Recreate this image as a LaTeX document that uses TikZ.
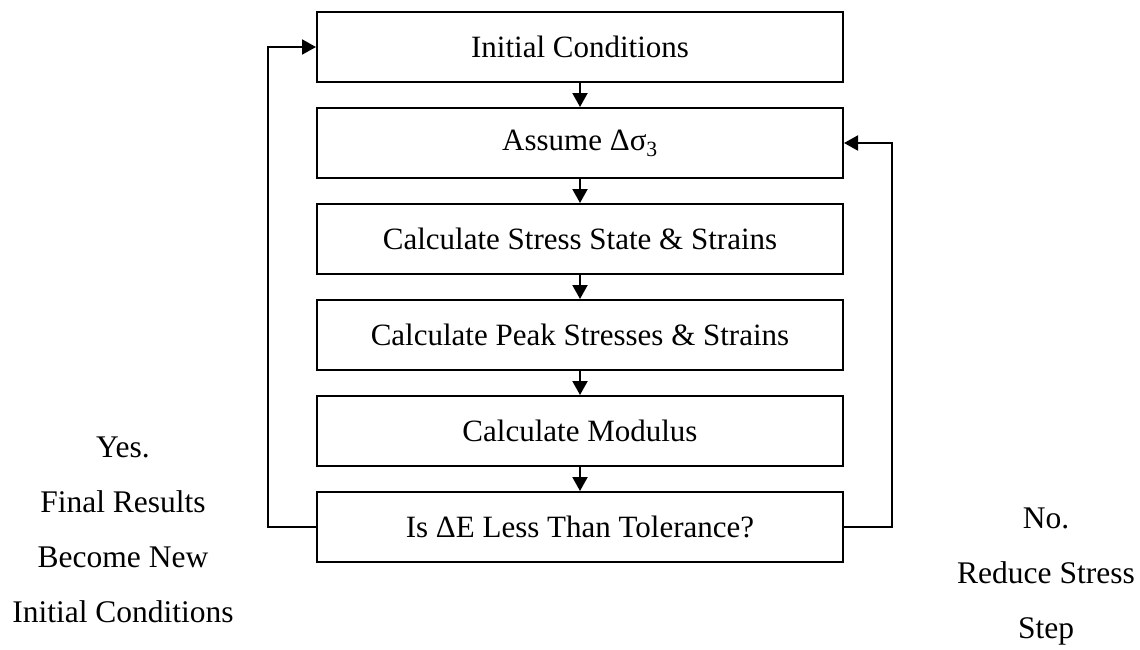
\documentclass[tikz,border=0pt]{standalone}
\usepackage{fontspec}
\setmainfont{Liberation Serif}
\usetikzlibrary{arrows.meta}
\begin{document}
\begin{tikzpicture}[x=1pt,y=-1pt,
  procbox/.style={draw=black,line width=2pt,minimum width=526pt,minimum height=70pt,inner sep=0pt,font=\fontsize{31}{37}\selectfont},
  flow/.style={line width=2pt,-{Triangle[length=14pt,width=15pt]}},
  sidelabel/.style={align=center,font=\fontsize{31.5}{55}\selectfont}]
\useasboundingbox (0,0) rectangle (1140,649);
\node[procbox] (b1) at (580,47) {Initial Conditions};
\node[procbox] (b2) at (580,143) {Assume Δσ\textsubscript{3}};
\node[procbox] (b3) at (580,239) {Calculate Stress State \& Strains};
\node[procbox] (b4) at (580,335) {Calculate Peak Stresses \& Strains};
\node[procbox] (b5) at (580,431) {Calculate Modulus};
\node[procbox] (b6) at (580,527) {Is ΔE Less Than Tolerance?};
\draw[flow] (b1) -- (b2);
\draw[flow] (b2) -- (b3);
\draw[flow] (b3) -- (b4);
\draw[flow] (b4) -- (b5);
\draw[flow] (b5) -- (b6);
\coordinate (lb) at (268,527);
\coordinate (lt) at (268,47);
\coordinate (rb) at (892,527);
\coordinate (rt) at (892,143);
\draw[flow] (b6.west) -- (lb) -- (lt) -- (b1.west);
\draw[flow] (b6.east) -- (rb) -- (rt) -- (b2.east);
\node[sidelabel] (yes) at (123,530) {Yes.\\Final Results\\Become New\\Initial Conditions};
\node[sidelabel] (no) at (1046,577) {No.\\Reduce Stress\\Step};
\end{tikzpicture}
\end{document}
